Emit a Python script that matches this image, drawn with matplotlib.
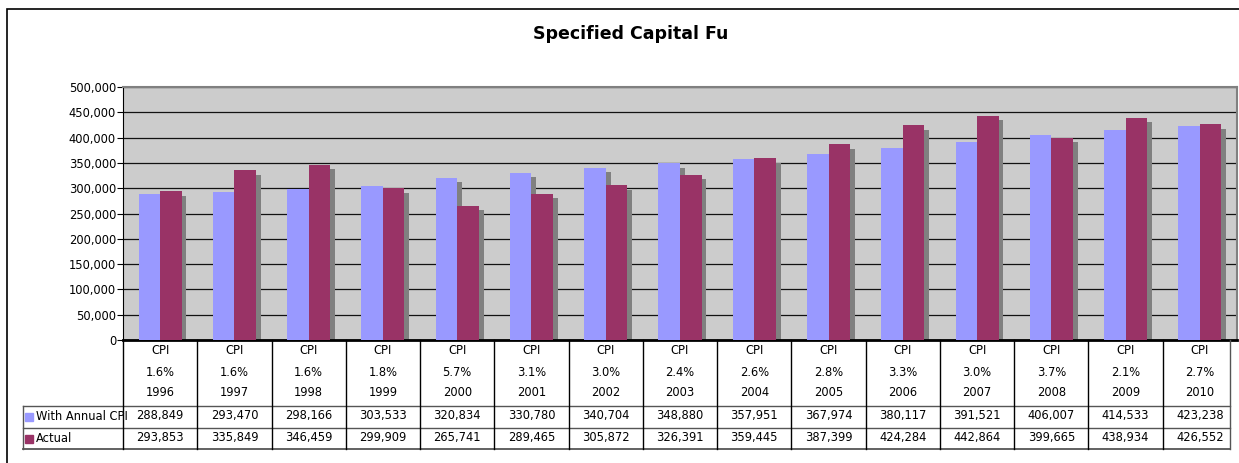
import matplotlib.pyplot as plt
from matplotlib.patches import Rectangle
from matplotlib.lines import Line2D

years = ['1996', '1997', '1998', '1999', '2000', '2001', '2002', '2003',
         '2004', '2005', '2006', '2007', '2008', '2009', '2010']
cpi = ['1.6%', '1.6%', '1.6%', '1.8%', '5.7%', '3.1%', '3.0%', '2.4%',
       '2.6%', '2.8%', '3.3%', '3.0%', '3.7%', '2.1%', '2.7%']
with_cpi = [288849, 293470, 298166, 303533, 320834, 330780, 340704, 348880,
            357951, 367974, 380117, 391521, 406007, 414533, 423238]
actual = [293853, 335849, 346459, 299909, 265741, 289465, 305872, 326391,
          359445, 387399, 424284, 442864, 399665, 438934, 426552]
series = ['With Annual CPI', 'Actual']
colors = ['#9999FF', '#993366']

W, H = 1239, 463
fig = plt.figure(figsize=(W / 100, H / 100), dpi=100)
plt.rcParams['font.family'] = 'DejaVu Sans'

def fx(px):
    return px / W

def fy(py):
    return 1 - py / H

# outer frame
fig.patches.append(Rectangle((fx(7), fy(470)), fx(1240), fy(9) - fy(470),
                             transform=fig.transFigure, fill=False,
                             edgecolor='#000000', lw=1.2))

left, right, top, bottom = 123, 1237, 87, 340
ax = fig.add_axes([fx(left), fy(bottom), fx(right - left), fy(top) - fy(bottom)])
ax.set_facecolor('#CCCCCC')
n = len(years)
x = list(range(n))
bw = 0.29
off = 0.145
dx = 0.065
dy = 9000
ax.bar([i - off + dx for i in x], [v - dy for v in with_cpi], bw, color='#808080', zorder=2)
ax.bar([i + off + dx for i in x], [v - dy for v in actual], bw, color='#808080', zorder=2)
ax.bar([i - off for i in x], with_cpi, bw, color=colors[0], zorder=3)
ax.bar([i + off for i in x], actual, bw, color=colors[1], zorder=3)
ax.set_xlim(-0.5, n - 0.5)
ax.set_ylim(0, 500000)
ax.set_yticks(range(0, 500001, 50000))
ax.yaxis.set_major_formatter(plt.FuncFormatter(lambda v, _: f'{v:,.0f}'))
ax.tick_params(axis='y', labelsize=8.3, length=4, pad=1, colors='#000000')
ax.set_xticks([])
ax.yaxis.grid(True, color='#111111', lw=0.9, zorder=1)
for s in ['top', 'right']:
    ax.spines[s].set_color('#808080')
    ax.spines[s].set_linewidth(1.5)
ax.spines['left'].set_color('#000000')
ax.spines['bottom'].set_color('#000000')
ax.spines['bottom'].set_linewidth(2)

fig.text(fx(631), fy(34), 'Specified Capital Fu', ha='center', va='center',
         fontsize=12.5, fontweight='bold')

# data table under the axis
tr = 1230
colw = (right - left) / n

def hline(y, x0, x1, c='#000000', lw=1):
    fig.add_artist(Line2D([fx(x0), fx(x1)], [fy(y), fy(y)], color=c, lw=lw,
                          transform=fig.transFigure))

def vline(xp, y0, y1, c='#000000', lw=1):
    fig.add_artist(Line2D([fx(xp), fx(xp)], [fy(y0), fy(y1)], color=c, lw=lw,
                          transform=fig.transFigure))

hline(406, 23, tr, '#555555')
hline(428, 23, tr, '#555555')
hline(449, 23, tr, '#555555', 1.3)
vline(23, 406, 449, '#555555')
vline(tr, 340, 449, '#555555')
for i in range(n):
    vline(left + i * colw, 340, 449)
    cx = left + (i + 0.5) * colw
    fig.text(fx(cx), fy(351), 'CPI', ha='center', va='center', fontsize=8.3)
    fig.text(fx(cx), fy(373), cpi[i], ha='center', va='center', fontsize=8.3)
    fig.text(fx(cx), fy(393), years[i], ha='center', va='center', fontsize=8.3)
    fig.text(fx(cx), fy(416), f'{with_cpi[i]:,}', ha='center', va='center', fontsize=8.3)
    fig.text(fx(cx), fy(438), f'{actual[i]:,}', ha='center', va='center', fontsize=8.3)

for j, (name, c) in enumerate(zip(series, colors)):
    yc = 417 + j * 22
    fig.patches.append(Rectangle((fx(25), fy(yc + 4)), fx(8), fy(yc - 4) - fy(yc + 4),
                                 transform=fig.transFigure, color=c))
    fig.text(fx(36), fy(yc), name, ha='left', va='center', fontsize=8.3)

fig.savefig('out.png', dpi=100)
